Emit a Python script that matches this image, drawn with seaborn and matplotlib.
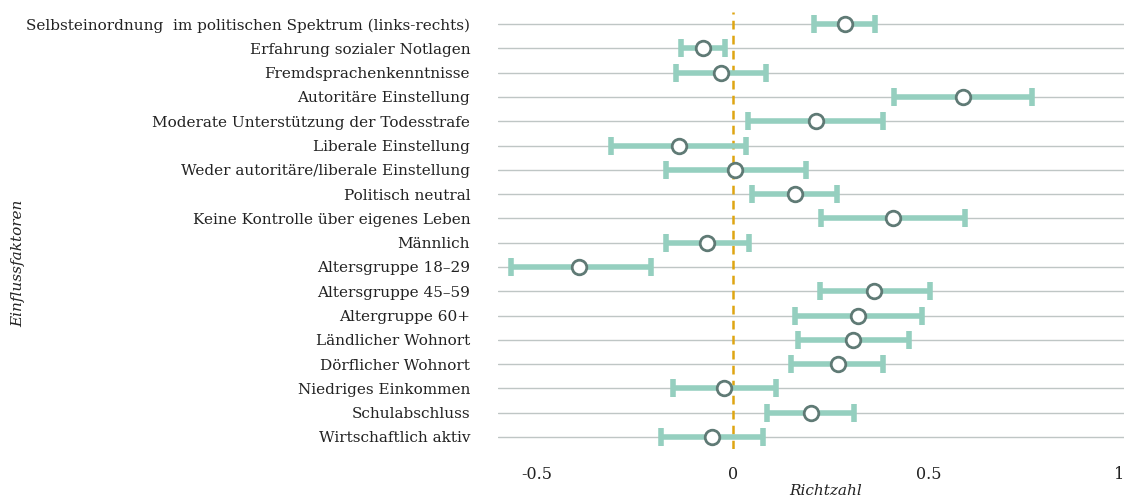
import pandas as pd
import matplotlib
matplotlib.use("Agg")
import matplotlib.pyplot as plt
import seaborn as sns

factors = [
    "Selbsteinordnung  im politischen Spektrum (links-rechts)",
    "Erfahrung sozialer Notlagen",
    "Fremdsprachenkenntnisse",
    "Autoritäre Einstellung",
    "Moderate Unterstützung der Todesstrafe",
    "Liberale Einstellung",
    "Weder autoritäre/liberale Einstellung",
    "Politisch neutral",
    "Keine Kontrolle über eigenes Leben",
    "Männlich",
    "Altersgruppe 18–29",
    "Altersgruppe 45–59",
    "Altergruppe 60+",
    "Ländlicher Wohnort",
    "Dörflicher Wohnort",
    "Niedriges Einkommen",
    "Schulabschluss",
    "Wirtschaftlich aktiv",
]
estimate = [0.287, -0.076, -0.030, 0.588, 0.214, -0.138, 0.007, 0.159, 0.410,
            -0.066, -0.392, 0.362, 0.319, 0.308, 0.268, -0.021, 0.201, -0.053]
lower = [0.208, -0.131, -0.144, 0.412, 0.040, -0.312, -0.170, 0.049, 0.226,
         -0.171, -0.566, 0.223, 0.160, 0.166, 0.148, -0.152, 0.088, -0.184]
upper = [0.363, -0.020, 0.085, 0.764, 0.383, 0.035, 0.188, 0.266, 0.594,
         0.041, -0.209, 0.504, 0.484, 0.450, 0.385, 0.111, 0.310, 0.078]
xticks = [-0.5, 0, 0.5, 1]
xtick_labels = ["-0.5", "0", "0.5", "1"]

df = pd.DataFrame({"factor": factors, "estimate": estimate,
                   "lower": lower, "upper": upper})

sns.set_theme(style="white")
plt.rcParams["font.family"] = ["DejaVu Serif"]

fig = plt.figure(figsize=(11.24, 4.99), dpi=100)
ax = fig.add_axes([0.443, 0.100, 0.557, 0.876])

ax.grid(axis="y", color="#bfc6c5", linewidth=1.0)
ax.set_axisbelow(True)

ax.axvline(0, color="#dea512", linestyle=(0, (3.5, 2.5)), linewidth=1.8, zorder=2)

xerr = [df["estimate"] - df["lower"], df["upper"] - df["estimate"]]
ax.errorbar(df["estimate"], df["factor"], xerr=xerr, fmt="none",
            ecolor="#95cfbf", elinewidth=4, capsize=6.5, capthick=4, zorder=3)
sns.scatterplot(data=df, x="estimate", y="factor", ax=ax, s=110,
                color="white", edgecolor="#5f7a75", linewidth=2, zorder=4)

ax.set_xlim(-0.6, 1.0)
ax.set_ylim(len(factors) - 0.5, -0.5)
ax.set_xticks(xticks)
ax.set_xticklabels(xtick_labels)
ax.get_xticklabels()[-1].set_horizontalalignment("right")
ax.tick_params(axis="y", length=0, labelsize=11, colors="#222222", pad=20)
ax.tick_params(axis="x", length=0, labelsize=11.5, colors="#222222", pad=12)

for s in ax.spines.values():
    s.set_visible(False)

ax.set_xlabel("Richtzahl", fontsize=11, style="italic", color="#222222")
ax.set_ylabel("Einflussfaktoren", fontsize=11, style="italic", color="#222222")
ax.xaxis.set_label_coords(0.524, -0.08)
ax.yaxis.set_label_coords(-0.755, 0.426)

fig.savefig("out.png", dpi=100)
